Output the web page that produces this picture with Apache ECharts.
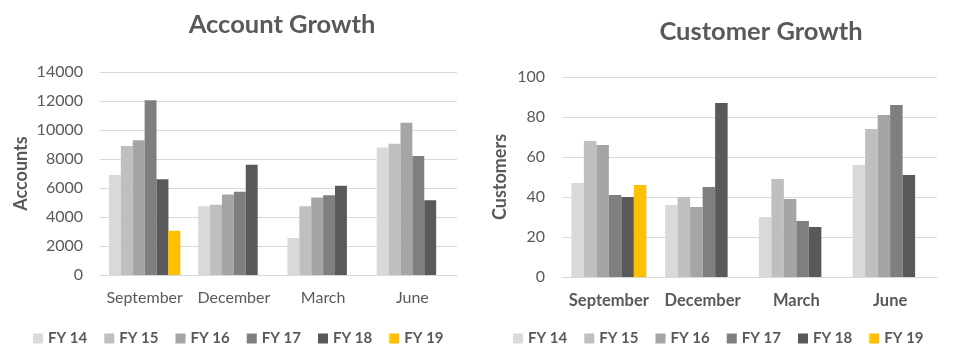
<!DOCTYPE html>
<html><head><meta charset="utf-8">
<script src="https://cdn.jsdelivr.net/npm/echarts@6/dist/echarts.min.js"></script>
<style>html,body{margin:0;padding:0;background:#fff}#c{width:960px;height:356px}</style>
</head><body><div id="c"></div>
<script>
const categories = ['September', 'December', 'March', 'June'];
const seriesNames = ['FY 14', 'FY 15', 'FY 16', 'FY 17', 'FY 18', 'FY 19'];
const colors = ['#d9d9d9', '#bfbfbf', '#a5a5a5', '#7f7f7f', '#595959', '#ffc000'];
// Account Growth
const acctFY14 = [6900, 4750, 2550, 8800];
const acctFY15 = [8900, 4850, 4750, 9050];
const acctFY16 = [9300, 5550, 5350, 10500];
const acctFY17 = [12050, 5750, 5500, 8200];
const acctFY18 = [6600, 7600, 6150, 5150];
const acctFY19 = [3050, null, null, null];
// Customer Growth
const custFY14 = [47, 36, 30, 56];
const custFY15 = [68, 40, 49, 74];
const custFY16 = [66, 35, 39, 81];
const custFY17 = [41, 45, 28, 86];
const custFY18 = [40, 87, 25, 51];
const custFY19 = [46, null, null, null];

const acct = [acctFY14, acctFY15, acctFY16, acctFY17, acctFY18, acctFY19];
const cust = [custFY14, custFY15, custFY16, custFY17, custFY18, custFY19];

const FONT = 'Lato';
const TXT = '#595959';
const series = [];
seriesNames.forEach((n, i) => {
  series.push({ name: n, type: 'bar', xAxisIndex: 0, yAxisIndex: 0, data: acct[i],
    itemStyle: { color: colors[i] }, barGap: '0%', barCategoryGap: '20%', animation: false });
});
seriesNames.forEach((n, i) => {
  series.push({ name: n, type: 'bar', xAxisIndex: 1, yAxisIndex: 1, data: cust[i],
    itemStyle: { color: colors[i] }, barGap: '0%', barCategoryGap: '20%', animation: false });
});

const legendBase = {
  data: seriesNames, icon: 'rect', itemWidth: 10, itemHeight: 10, itemGap: 17, padding: 0,
  selectedMode: false,
  textStyle: { fontFamily: FONT, fontWeight: 'bold', fontSize: 15, color: TXT }
};

const chart = echarts.init(document.getElementById('c'), null, { renderer: 'canvas' });
chart.setOption({
  animation: false,
  textStyle: { fontFamily: FONT },
  title: [
    { text: 'Account Growth', left: 282, top: 25, textAlign: 'center', textVerticalAlign: 'middle', padding: 0,
      textStyle: { fontFamily: FONT, fontWeight: 'bold', fontSize: 25.5, color: TXT } },
    { text: 'Customer Growth', left: 761, top: 32, textAlign: 'center', textVerticalAlign: 'middle', padding: 0,
      textStyle: { fontFamily: FONT, fontWeight: 'bold', fontSize: 25.5, color: TXT } }
  ],
  legend: [
    Object.assign({}, legendBase, { left: 33, top: 331 }),
    Object.assign({}, legendBase, { left: 513, top: 331 })
  ],
  grid: [
    { left: 100, right: 503, top: 72, bottom: 81 },
    { left: 562, right: 23, top: 77, bottom: 79 }
  ],
  xAxis: [0, 1].map(i => ({
    type: 'category', gridIndex: i, data: categories,
    axisLine: { lineStyle: { color: '#d9d9d9', width: 1 } },
    axisTick: { show: false },
    axisLabel: { interval: 0, color: TXT, fontFamily: FONT, fontSize: i === 1 ? 16.5 : 16,
      fontWeight: i === 1 ? 'bold' : 'normal', margin: 15 }
  })),
  yAxis: [
    { type: 'value', gridIndex: 0, min: 0, max: 14000, interval: 2000,
      name: 'Accounts', nameLocation: 'middle', nameGap: 70, nameRotate: 90,
      nameTextStyle: { color: TXT, fontFamily: FONT, fontWeight: 'bold', fontSize: 18 },
      axisLine: { show: false }, axisTick: { show: false },
      axisLabel: { color: TXT, fontFamily: FONT, fontSize: 16, margin: 17, formatter: v => String(v) },
      splitLine: { lineStyle: { color: '#d9d9d9' } } },
    { type: 'value', gridIndex: 1, min: 0, max: 100, interval: 20,
      name: 'Customers', nameLocation: 'middle', nameGap: 53, nameRotate: 90,
      nameTextStyle: { color: TXT, fontFamily: FONT, fontWeight: 'bold', fontSize: 18 },
      axisLine: { show: false }, axisTick: { show: false },
      axisLabel: { color: TXT, fontFamily: FONT, fontSize: 16, margin: 17, formatter: v => String(v) },
      splitLine: { lineStyle: { color: '#d9d9d9' } } }
  ],
  series: series
});
</script></body></html>
